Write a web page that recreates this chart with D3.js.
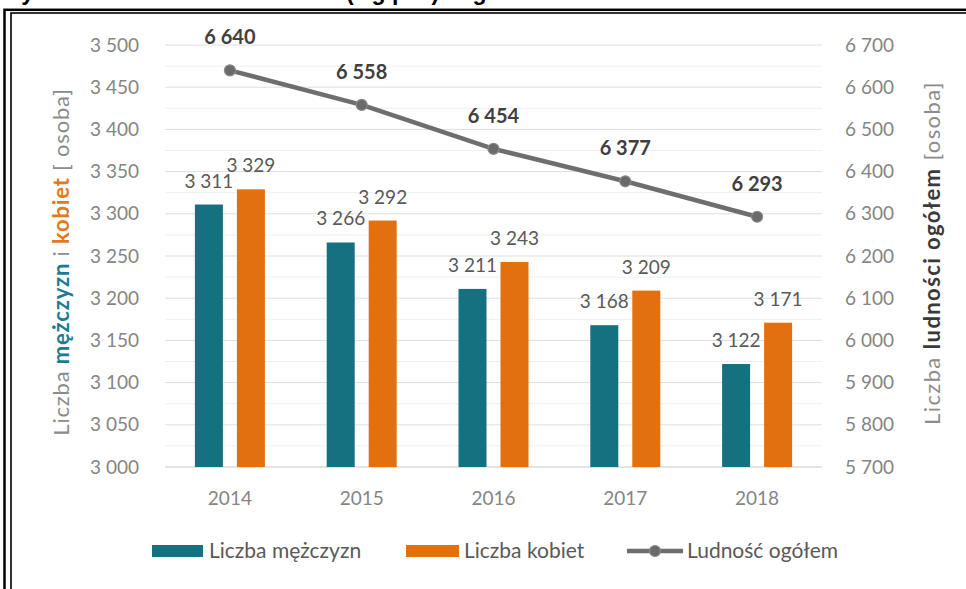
<!DOCTYPE html>
<html>
<head>
<meta charset="utf-8">
<script src="https://cdn.jsdelivr.net/npm/d3@7"></script>
<style>
  body { margin: 0; background: #fff; }
  svg { display: block; font-family: Lato, "Open Sans", sans-serif; }
</style>
</head>
<body>
<div class="chart"></div>
<script>
// data
var years = ['2014', '2015', '2016', '2017', '2018'];
var men = [3311, 3266, 3211, 3168, 3122];
var women = [3329, 3292, 3243, 3209, 3171];
var total = [6640, 6558, 6454, 6377, 6293];
var leftTicks = [3000, 3050, 3100, 3150, 3200, 3250, 3300, 3350, 3400, 3450, 3500];
var rightTicks = [5700, 5800, 5900, 6000, 6100, 6200, 6300, 6400, 6500, 6600, 6700];

var W = 966, H = 589;
var teal = '#15707f', orange = '#e3700f', lineCol = '#6e6e6e';
var tickGrey = '#858585', labelGrey = '#595959';

var svg = d3.select('.chart').append('svg')
    .attr('width', W)
    .attr('height', H);

// title sits above the frame, only the descenders are left in view
svg.append('text')
    .attr('x', 0)
    .attr('y', -0.5)
    .attr('font-family', 'Liberation Sans, Arial, sans-serif')
    .attr('font-weight', 'bold')
    .attr('font-size', 23)
    .attr('fill', '#000')
    .text('Wykres 1. Liczba mieszkańców (wg płci) i ogółem w latach 2014–2018');

// double frame
svg.append('rect').attr('x', 4.5).attr('y', 9.8).attr('width', W + 20).attr('height', H + 20)
    .attr('fill', 'none').attr('stroke', '#000').attr('stroke-width', 2.5);
svg.append('rect').attr('x', 11).attr('y', 13).attr('width', W + 20).attr('height', H + 20)
    .attr('fill', 'none').attr('stroke', '#000').attr('stroke-width', 1.6);

var yL = d3.scaleLinear().domain([3000, 3500]).range([467, 45]);
var yR = d3.scaleLinear().domain([5700, 6700]).range([467, 45]);
var x = d3.scaleBand().domain(years).range([164, 823]);
var x1 = d3.scaleBand().domain(['m', 'k']).range([0, 70]).paddingInner(1 / 3);

var fmt = function(v) { return d3.format(',')(v).replace(',', ' '); };

// gridlines (major + minor)
var minor = d3.range(3025, 3500, 50);
svg.append('g').selectAll('line.minor')
    .data(minor).enter().append('line')
    .attr('x1', 165).attr('x2', 822)
    .attr('y1', (d) => yL(d)).attr('y2', (d) => yL(d))
    .attr('stroke', '#efefef').attr('stroke-width', 1);
svg.append('g').selectAll('line.major')
    .data(leftTicks).enter().append('line')
    .attr('x1', 165).attr('x2', 822)
    .attr('y1', (d) => yL(d)).attr('y2', (d) => yL(d))
    .attr('stroke', (d) => d === 3000 ? '#c8c8c8' : '#dedede').attr('stroke-width', 1);

// left axis labels
svg.append('g').selectAll('text')
    .data(leftTicks).enter().append('text')
    .attr('x', 139).attr('y', (d) => yL(d) + 6.5)
    .attr('text-anchor', 'end')
    .attr('font-size', 19).attr('fill', tickGrey)
    .text(fmt);

// right axis labels
svg.append('g').selectAll('text')
    .data(rightTicks).enter().append('text')
    .attr('x', 845).attr('y', (d) => yR(d) + 6.5)
    .attr('font-size', 19).attr('fill', tickGrey)
    .text(fmt);

// x labels
svg.append('g').selectAll('text')
    .data(years).enter().append('text')
    .attr('x', (d) => x(d) + x.bandwidth() / 2)
    .attr('y', 505)
    .attr('text-anchor', 'middle')
    .attr('font-size', 19).attr('fill', tickGrey)
    .text((d) => d);

// bars
var groups = svg.append('g').selectAll('g')
    .data(years).enter().append('g')
    .attr('transform', (d) => 'translate(' + (x(d) + x.bandwidth() / 2 - 35) + ',0)');

groups.each(function(d, i) {
  var g = d3.select(this);
  var vals = [{k: 'm', v: men[i], c: teal}, {k: 'k', v: women[i], c: orange}];
  vals.forEach((b) => {
    g.append('rect')
      .attr('x', x1(b.k)).attr('width', x1.bandwidth())
      .attr('y', yL(b.v)).attr('height', yL(3000) - yL(b.v))
      .attr('fill', b.c);
    g.append('text')
      .attr('x', x1(b.k) + x1.bandwidth() / 2)
      .attr('y', yL(b.v) - 17)
      .attr('text-anchor', 'middle')
      .attr('font-size', 19).attr('fill', labelGrey)
      .text(fmt(b.v));
  });
});

// total line
var line = d3.line()
    .x((d, i) => x(years[i]) + x.bandwidth() / 2)
    .y((d) => yR(d));

svg.append('path')
    .datum(total)
    .attr('d', line)
    .attr('fill', 'none')
    .attr('stroke', lineCol)
    .attr('stroke-width', 4.5)
    .attr('stroke-linejoin', 'round');

svg.append('g').selectAll('circle')
    .data(total).enter().append('circle')
    .attr('cx', (d, i) => x(years[i]) + x.bandwidth() / 2)
    .attr('cy', (d) => yR(d))
    .attr('r', 5.5)
    .attr('fill', '#6a6a6a').attr('stroke', '#8a8a8a').attr('stroke-width', 1.2);

svg.append('g').selectAll('text')
    .data(total).enter().append('text')
    .attr('x', (d, i) => x(years[i]) + x.bandwidth() / 2)
    .attr('y', (d) => yR(d) - 26)
    .attr('text-anchor', 'middle')
    .attr('font-size', 20).attr('font-weight', 'bold').attr('fill', '#404040')
    .text(fmt);

// axis titles
var lt = svg.append('text')
    .attr('transform', 'translate(69,262) rotate(-90)')
    .attr('text-anchor', 'middle')
    .attr('font-size', 22).attr('letter-spacing', 0.8).attr('fill', '#8c8c8c');
lt.append('tspan').text('Liczba ');
lt.append('tspan').attr('font-weight', 'bold').attr('fill', '#1b7d92').text('mężczyzn');
lt.append('tspan').text(' i ');
lt.append('tspan').attr('font-weight', 'bold').attr('fill', '#e07a1c').text('kobiet');
lt.append('tspan').text(' [ osoba]');

var rt = svg.append('text')
    .attr('transform', 'translate(940,253) rotate(-90)')
    .attr('text-anchor', 'middle')
    .attr('font-size', 22).attr('letter-spacing', 1.4).attr('fill', '#8c8c8c');
rt.append('tspan').text('Liczba ');
rt.append('tspan').attr('font-weight', 'bold').attr('fill', '#3a3a3a').text('ludności ogółem');
rt.append('tspan').text(' [osoba]');

// legend
var leg = svg.append('g');
leg.append('rect').attr('x', 152).attr('y', 545).attr('width', 51).attr('height', 12).attr('fill', teal);
leg.append('text').attr('x', 209).attr('y', 558).attr('font-size', 21).attr('fill', labelGrey).text('Liczba mężczyzn');
leg.append('rect').attr('x', 406).attr('y', 545).attr('width', 53).attr('height', 12).attr('fill', orange);
leg.append('text').attr('x', 464).attr('y', 558).attr('font-size', 21).attr('fill', labelGrey).text('Liczba kobiet');
leg.append('line').attr('x1', 627).attr('x2', 683).attr('y1', 551).attr('y2', 551)
    .attr('stroke', lineCol).attr('stroke-width', 4.5);
leg.append('circle').attr('cx', 655).attr('cy', 551).attr('r', 5.5)
    .attr('fill', '#6a6a6a').attr('stroke', '#8a8a8a').attr('stroke-width', 1.2);
leg.append('text').attr('x', 687).attr('y', 558).attr('font-size', 21).attr('fill', labelGrey).text('Ludność ogółem');
</script>
</body>
</html>
